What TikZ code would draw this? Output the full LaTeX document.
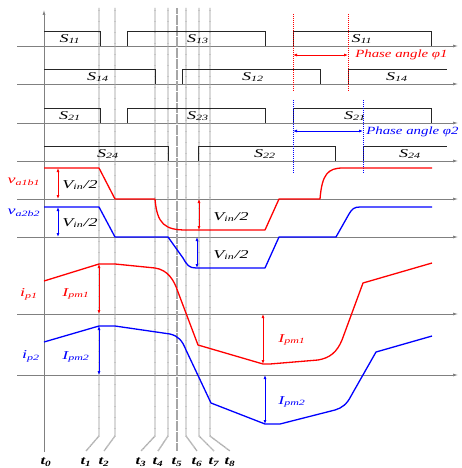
\documentclass[tikz,border=0pt]{standalone}
\usepackage{fontspec}
\setmainfont{Liberation Serif}
\usetikzlibrary{arrows.meta}
\tikzset{
  axis/.style = {gray, line width=0.7pt, -{Latex[length=5pt,width=3pt]}},
  tline/.style = {gray!70, line width=1.4pt, dash pattern=on 0.6pt off 0.5pt},
  sw/.style = {black!85, line width=0.9pt},
  wave/.style = {line width=1.3pt, line join=round},
  dim/.style = {line width=0.9pt, {Latex[length=4pt,width=3pt]}-{Latex[length=4pt,width=3pt]}},
  phase/.style = {line width=0.8pt, dash pattern=on 1pt off 1pt},
  lbl/.style = {font=\fontsize{12}{14}\selectfont\itshape, xscale=1.5, inner sep=0pt},
  small/.style = {font=\fontsize{11}{13}\selectfont\itshape, xscale=1.35, inner sep=0pt},
  tlbl/.style = {font=\fontsize{12}{14}\selectfont\bfseries\itshape, xscale=1.4, inner sep=0pt}
}
\newcommand{\wsub}[2]{#1\textsubscript{#2}}
\begin{document}
\begin{tikzpicture}[x=1pt, y=-1pt]
\useasboundingbox (0,0) rectangle (462,468);
% axes
\draw[axis] (44,452) -- (44,10);
\foreach \y in {46,84,123,161,199,237,314,375}
  \draw[axis] (17,\y) -- (458,\y);
% switching instants
\foreach \x/\e/\n in {99/86/1, 115/104/2, 155/141/3, 168/158/4, 177/177/5, 186/197/6, 199/214/7, 210/230/8}{
  \draw[tline] (\x,8) -- (\x,436) -- (\e,451);
  \node[tlbl] (t\n) at (\e,462) {\wsub{t}{\n}};
}
\node[tlbl] (t0) at (46,462) {\wsub{t}{0}};
% gate signals
\draw[sw] (44,31) -- (100,31) -- (100,46) (127,46) -- (127,31) -- (265,31) -- (265,46)
  (293,46) -- (293,31) -- (431,31) -- (431,46);
\draw[sw] (44,69) -- (155,69) -- (155,84) (182,84) -- (182,69) -- (320,69) -- (320,84)
  (348,84) -- (348,69) -- (447,69);
\draw[sw] (44,108) -- (100,108) -- (100,123) (127,123) -- (127,108) -- (265,108) -- (265,123)
  (293,123) -- (293,108) -- (431,108) -- (431,123);
\draw[sw] (44,146) -- (168,146) -- (168,161) (198,161) -- (198,146) -- (335,146) -- (335,161)
  (363,161) -- (363,146) -- (447,146);
\node[lbl] (s11a) at (70,39) {\wsub{S}{11}};
\node[lbl] (s13) at (198,39) {\wsub{S}{13}};
\node[lbl] (s11b) at (362,39) {\wsub{S}{11}};
\node[lbl] (s14a) at (98,77) {\wsub{S}{14}};
\node[lbl] (s12) at (253,77) {\wsub{S}{12}};
\node[lbl] (s14b) at (397,77) {\wsub{S}{14}};
\node[lbl] (s21a) at (70,116) {\wsub{S}{21}};
\node[lbl] (s23) at (198,116) {\wsub{S}{23}};
\node[lbl] (s21b) at (355,116) {\wsub{S}{21}};
\node[lbl] (s24a) at (108,154) {\wsub{S}{24}};
\node[lbl] (s22) at (265,154) {\wsub{S}{22}};
\node[lbl] (s24b) at (410,154) {\wsub{S}{24}};
% phase shifts
\draw[phase, red] (293,14) -- (293,92) (348,14) -- (348,92);
\draw[phase, blue] (293,100) -- (293,173) (363,100) -- (363,173);
\draw[dim, red] (293,55) -- (348,55);
\draw[dim, blue] (293,131) -- (363,131);
\node[small, red, anchor=west] (phi1) at (355,55) {Phase angle φ1};
\node[small, blue, anchor=west] (phi2) at (366,132) {Phase angle φ2};
% bridge voltages
\draw[wave, red] (44,168) -- (99,168) -- (115,199) -- (155,199)
  .. controls (157,224) and (165,230) .. (186,230) -- (265,230) -- (279,199) -- (320,199)
  .. controls (322,174) and (328,168) .. (343,168) -- (432,168);
\draw[wave, blue] (44,207) -- (99,207) -- (115,237) -- (168,237) -- (183,258)
  .. controls (187,265) and (189,268) .. (196,268) -- (265,268) -- (279,237) -- (336,237)
  -- (349,214) .. controls (352,209) and (354,207) .. (360,207) -- (432,207);
\node[lbl, red] (va1) at (24,182) {\wsub{v}{a1b1}};
\node[lbl, blue] (va2) at (24,213) {\wsub{v}{a2b2}};
\draw[dim, red] (58,168) -- (58,199);
\draw[dim, blue] (58,207) -- (58,237);
\draw[dim, red] (199,199) -- (199,230);
\draw[dim, blue] (197,237) -- (197,268);
\node[lbl] (vin1) at (80,185) {\wsub{V}{in}/2};
\node[lbl] (vin2) at (80,223) {\wsub{V}{in}/2};
\node[lbl] (vin3) at (231,217) {\wsub{V}{in}/2};
\node[lbl] (vin4) at (231,255) {\wsub{V}{in}/2};
% transformer currents
\draw[wave, red] (44,281) -- (99,264) -- (115,264) -- (155,268)
  .. controls (168,270) and (174,280) .. (178,292) -- (198,345) -- (263,364) -- (270,364)
  -- (318,360) .. controls (330,358) and (337,352) .. (342,340) -- (363,283) -- (432,263);
\draw[wave, blue] (44,342) -- (99,326) -- (115,326) -- (170,334)
  .. controls (178,336) and (182,340) .. (186,350) -- (211,403) -- (265,424) -- (280,424)
  -- (335,410) .. controls (342,408) and (347,404) .. (351,396) -- (376,352) -- (432,336);
\node[lbl, red] (ip1) at (29,294) {\wsub{i}{p1}};
\node[lbl, blue] (ip2) at (31,356) {\wsub{i}{p2}};
\draw[dim, red] (99,264) -- (99,314);
\draw[dim, blue] (99,326) -- (99,375);
\draw[dim, red] (263,314) -- (263,364);
\draw[dim, blue] (265,375) -- (265,424);
\node[lbl, red] (ipm1a) at (76,294) {\wsub{I}{pm1}};
\node[lbl, blue] (ipm2a) at (76,357) {\wsub{I}{pm2}};
\node[lbl, red] (ipm1b) at (292,340) {\wsub{I}{pm1}};
\node[lbl, blue] (ipm2b) at (292,402) {\wsub{I}{pm2}};
\end{tikzpicture}
\end{document}
